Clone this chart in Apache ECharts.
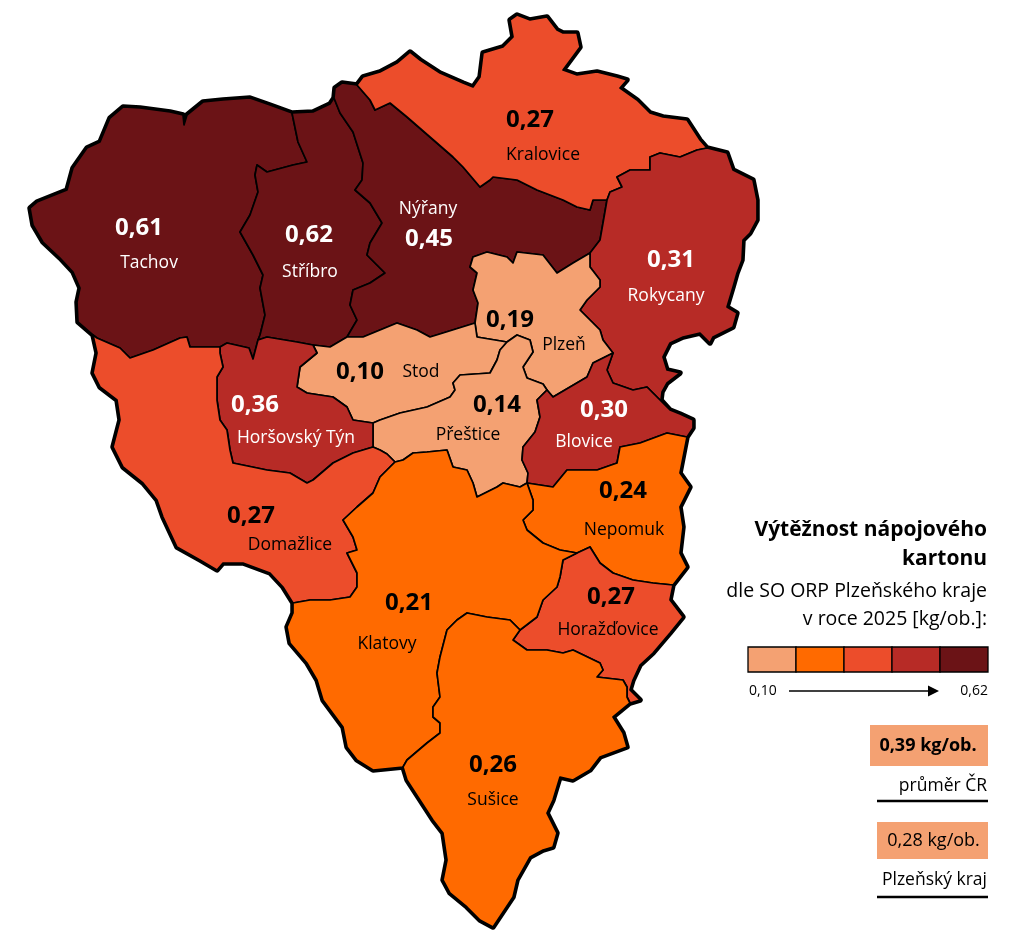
<!DOCTYPE html>
<html><head><meta charset="utf-8">
<script src="https://cdn.jsdelivr.net/npm/echarts@6/dist/echarts.min.js"></script>
<style>html,body{margin:0;padding:0;background:#fff}#c{width:1024px;height:935px}</style>
</head><body><div id="c"></div><script>
// ---------------- DATA ----------------
const regionNames = ['Tachov','Stříbro','Nýřany','Kralovice','Rokycany','Plzeň','Stod','Přeštice','Blovice','Horšovský Týn','Domažlice','Nepomuk','Horažďovice','Klatovy','Sušice'];
const regionValues = [0.61,0.62,0.45,0.27,0.31,0.19,0.10,0.14,0.30,0.36,0.27,0.24,0.27,0.21,0.26];
const classBreaks = [0.10,0.20,0.265,0.29,0.40,0.62];
const classColors = ['#f4a172','#ff6a00','#ec4d2b','#b72b26','#6b1316'];
const legendTicks = ['0,10','0,62'];
const averageLabels = ['průměr ČR','Plzeňský kraj'];
const averageValues = [0.39,0.28];
const titleLines = ['Výtěžnost nápojového','kartonu'];
const subtitleLines = ['dle SO ORP Plzeňského kraje','v roce 2025 [kg/ob.]:'];
const unit = 'kg/ob.';

// ---------------- GEOMETRY (map outlines, pixel space) ----------------
const CH = {
 O_TachovN:[[93,335],[78,322],[77,302],[80,288],[73,272],[60,258],[43,242],[33,225],[30,208],[37,202],[67,190],[73,168],[87,148],[100,142],[110,118],[123,107],[140,108],[170,112],[183,115],[184,125],[187,115],[203,102],[223,100],[250,98],[270,105],[292,113]],
 T_S:[[292,113],[298,142],[307,162],[293,165],[267,172],[257,165],[255,175],[258,192],[250,215],[240,232],[253,255],[263,275],[260,288],[265,315],[260,335],[258,340]],
 T_HT:[[258,340],[253,359],[249,348],[227,343],[220,347]],
 T_D:[[220,347],[190,347],[187,337],[180,338],[153,350],[130,358],[120,348],[97,338],[93,335]],
 O_StribroN:[[292,113],[313,112],[330,104],[334,98]],
 S_N:[[334,98],[340,113],[353,132],[363,163],[362,180],[355,190],[370,203],[382,223],[370,243],[367,255],[385,273],[370,283],[353,290],[350,305],[357,320],[347,337]],
 S_Stod:[[347,337],[330,347],[313,345]],
 S_HT:[[313,345],[297,342],[267,337],[258,340]],
 O_NyranyN:[[334,98],[335,88],[342,83],[357,85]],
 N_K:[[357,85],[370,100],[375,110],[390,103],[407,117],[430,137],[453,157],[463,167],[480,187],[490,180],[493,177],[517,180],[537,190],[563,200],[577,207],[590,210],[593,200],[607,200]],
 N_R:[[607,200],[603,223],[600,240],[590,253]],
 N_P:[[590,253],[573,263],[557,273],[543,255],[517,252],[513,263],[507,257],[487,252],[473,257],[470,267],[477,273],[473,290],[478,303],[475,323]],
 N_Stod:[[475,323],[443,333],[430,337],[417,330],[397,323],[363,337],[347,337]],
 O_KralN:[[357,85],[363,77],[380,72],[397,63],[410,52],[420,60],[440,73],[463,83],[473,87],[480,77],[483,53],[503,47],[513,37],[510,20],[517,15],[530,20],[547,17],[557,30],[563,33],[577,33],[580,47],[563,70],[577,75],[597,72],[617,77],[627,80],[620,88],[637,100],[650,113],[663,117],[687,120],[700,140],[707,148]],
 K_R:[[707,148],[697,150],[680,157],[660,153],[650,157],[650,170],[630,170],[617,177],[622,187],[610,192],[607,200]],
 O_RokE:[[707,148],[727,153],[733,170],[753,180],[757,200],[757,220],[750,233],[743,240],[742,260],[737,273],[733,287],[727,307],[737,313],[733,327],[713,337],[710,343],[700,333],[683,337],[670,343],[663,357],[667,370],[680,373],[667,383],[662,392],[661,400],[670,410]],
 R_B:[[670,410],[657,397],[647,387],[633,390],[613,383],[607,370],[613,353]],
 R_P:[[613,353],[603,340],[600,330],[590,320],[580,310],[587,300],[600,287],[600,280],[590,267],[590,253]],
 O_Blov:[[670,410],[680,414],[693,420],[693,428],[687,437]],
 P_B:[[613,353],[593,363],[587,377],[570,387],[553,397],[547,390]],
 P_Pr:[[547,390],[543,384],[527,378],[523,367],[533,352],[530,340],[517,335],[507,342]],
 P_Stod:[[507,342],[477,337],[475,323]],
 St_Pr:[[507,342],[500,350],[497,360],[490,373],[460,375],[453,383],[455,390],[450,397],[427,407],[400,413],[380,420],[373,423]],
 St_HT:[[373,423],[353,420],[347,407],[333,397],[307,393],[297,387],[300,367],[317,353],[313,345]],
 HT_Pr:[[373,423],[373,447]],
 HT_D:[[373,447],[353,453],[333,463],[313,480],[307,483],[290,473],[267,470],[233,463],[230,450],[227,430],[220,420],[217,400],[217,377],[223,367],[220,353],[220,347]],
 O_Dom:[[93,335],[97,353],[93,373],[100,387],[117,400],[120,420],[113,447],[123,467],[143,483],[157,500],[163,517],[177,547],[200,560],[217,570],[223,563],[243,563],[270,573],[283,587],[293,603]],
 D_K:[[293,603],[310,600],[330,600],[350,597],[357,587],[357,573],[347,553],[357,550],[353,537],[343,520],[357,507],[373,493],[380,477],[395,462]],
 D_Pr:[[395,462],[387,454],[380,450],[373,447]],
 Pr_B:[[547,390],[537,400],[540,417],[535,432],[523,447],[522,460],[528,473],[527,483]],
 Pr_K:[[527,483],[520,487],[503,483],[497,487],[477,497],[473,483],[467,470],[453,467],[447,450],[427,452],[413,453],[403,460],[395,462]],
 B_N:[[687,437],[667,433],[640,443],[620,447],[617,463],[597,470],[567,470],[553,487],[527,483]],
 O_Nep:[[687,437],[680,473],[690,487],[680,507],[683,527],[680,553],[687,567],[673,585]],
 Ne_H:[[673,585],[653,583],[633,580],[613,573],[600,563],[590,547],[577,553]],
 Ne_K:[[577,553],[560,550],[543,543],[527,530],[523,520],[533,510],[533,500],[527,483]],
 O_Hor:[[673,585],[670,600],[683,617],[670,633],[653,653],[640,665],[633,680],[630,690],[640,700],[630,703]],
 H_S:[[630,703],[627,697],[627,687],[623,680],[597,677],[603,670],[600,663],[573,650],[563,653],[547,650],[527,650],[513,640],[520,630]],
 H_K:[[520,630],[537,617],[543,600],[557,587],[560,577],[563,560],[577,553]],
 O_Sus:[[630,703],[613,717],[623,733],[627,747],[600,757],[590,770],[573,780],[560,777],[553,800],[547,813],[557,833],[553,847],[543,850],[530,857],[517,880],[513,897],[493,927],[480,920],[467,907],[450,893],[443,880],[447,860],[443,833],[433,820],[420,800],[407,780],[403,767]],
 Su_K:[[403,767],[407,760],[427,743],[440,733],[440,723],[433,717],[433,707],[440,697],[437,673],[440,657],[447,630],[457,620],[467,613],[487,617],[510,620],[520,630]],
 O_Kl:[[403,767],[373,770],[357,760],[347,747],[343,727],[323,700],[317,680],[307,663],[290,643],[287,627],[293,613],[293,603]]
};
const REG = {
 'Tachov':['O_TachovN','T_S','T_HT','T_D'],
 'Stříbro':['O_StribroN','S_N','S_Stod','S_HT','-T_S'],
 'Nýřany':['O_NyranyN','N_K','N_R','N_P','N_Stod','-S_N'],
 'Kralovice':['O_KralN','K_R','-N_K'],
 'Rokycany':['O_RokE','R_B','R_P','-N_R','-K_R'],
 'Plzeň':['-N_P','-R_P','P_B','P_Pr','P_Stod'],
 'Stod':['-N_Stod','-P_Stod','St_Pr','St_HT','-S_Stod'],
 'Horšovský Týn':['-T_HT','-S_HT','-St_HT','HT_Pr','HT_D'],
 'Domažlice':['O_Dom','D_K','D_Pr','HT_D','T_D'],
 'Přeštice':['-P_Pr','Pr_B','Pr_K','D_Pr','-HT_Pr','-St_Pr'],
 'Blovice':['-R_B','O_Blov','B_N','-Pr_B','-P_B'],
 'Nepomuk':['-B_N','O_Nep','Ne_H','Ne_K'],
 'Horažďovice':['-Ne_H','O_Hor','H_S','H_K'],
 'Sušice':['-H_S','O_Sus','Su_K'],
 'Klatovy':['D_K','-Pr_K','-Ne_K','-H_K','-Su_K','O_Kl']
};
const OUTLINE = ['O_TachovN','O_StribroN','O_NyranyN','O_KralN','O_RokE','O_Blov','O_Nep','O_Hor','O_Sus','O_Kl','-O_Dom'];
// label anchors: [value centre, name centre]
const LABEL_POS = {
 'Tachov':[[139,228],[149,263]], 'Stříbro':[[309,235],[310,272]], 'Nýřany':[[429,239],[428,209]],
 'Kralovice':[[530,120],[543,155]], 'Rokycany':[[671,260],[666,296]], 'Plzeň':[[510,320],[564,345]],
 'Stod':[[360,372],[421,372]], 'Přeštice':[[497,405],[468,435]], 'Blovice':[[604,410],[584,442]],
 'Horšovský Týn':[[255,405],[296,438]], 'Domažlice':[[251,516],[290,545]], 'Nepomuk':[[623,491],[624,530]],
 'Horažďovice':[[611,597],[608,630]], 'Klatovy':[[409,603],[387,644]], 'Sušice':[[493,765],[493,800]]
};

// ---------------- BUILD ----------------
const FONT = '"Open Sans", "Noto Sans", sans-serif';
const VFS = 24, NFS = 17.5;
function ring(parts){
  let pts = [];
  parts.forEach(p => {
    const rev = p[0] === '-';
    let c = CH[rev ? p.slice(1) : p].slice();
    if (rev) c.reverse();
    if (pts.length) c = c.slice(1);
    pts = pts.concat(c);
  });
  pts.push(pts[0]);
  return pts.map(q => [q[0], -q[1]]);
}
const fmt = v => v.toFixed(2).replace('.', ',');
const classOf = v => { for (let i = 0; i < classColors.length; i++) { if (v < classBreaks[i+1] || i === classColors.length-1) return i; } };

const mctx = document.createElement('canvas').getContext('2d');
function tw(text, font){ mctx.font = font; return mctx.measureText(text).width; }
const V_FONT = 'bold ' + VFS + 'px ' + FONT, N_FONT = NFS + 'px ' + FONT;

const RICH = {}, LABELS = {};
const features = regionNames.map((name, i) => {
  const val = fmt(regionValues[i]);
  const [[vx,vy],[nx,ny]] = LABEL_POS[name];
  const col = classOf(regionValues[i]) >= 3 ? '#fff' : '#000';
  let cp, text;
  const vs = {fontSize:VFS, fontWeight:'bold', fontFamily:FONT, color:col, align:'center'};
  const ns = {fontSize:NFS, fontFamily:FONT, color:col, align:'center'};
  if (Math.abs(ny - vy) < 5) {
    const wv = tw(val, V_FONT), wn = tw(name, N_FONT);
    const gap = (nx - wn/2) - (vx + wv/2);
    const L = vx - wv/2;
    cp = [L + (wv + gap + wn)/2, vy];
    vs.padding = [0, gap, 0, 0]; vs.lineHeight = 30; ns.lineHeight = 30;
    text = `{v${i}|${val}}{n${i}|${name}}`;
  } else {
    const dx = nx - vx, dy = ny - vy, lh = Math.abs(dy);
    vs.padding = dx > 0 ? [0, dx, 0, 0] : [0, 0, 0, -dx];
    ns.padding = dx > 0 ? [0, 0, 0, dx] : [0, -dx, 0, 0];
    vs.lineHeight = lh; ns.lineHeight = lh;
    cp = [(vx+nx)/2, (vy+ny)/2];
    text = dy > 0 ? `{v${i}|${val}}\n{n${i}|${name}}` : `{n${i}|${name}}\n{v${i}|${val}}`;
  }
  RICH['v'+i] = vs; RICH['n'+i] = ns;
  LABELS[name] = text;
  return {type:'Feature', properties:{name, cp:[cp[0], -cp[1]]}, geometry:{type:'Polygon', coordinates:[ring(REG[name])]}};
});
echarts.registerMap('plzen', {type:'FeatureCollection', features});
echarts.registerMap('plzenOutline', {type:'FeatureCollection', features:[{type:'Feature', properties:{name:'outline'}, geometry:{type:'Polygon', coordinates:[ring(OUTLINE)]}}]});

let minX=1e9,minY=1e9,maxX=-1e9,maxY=-1e9;
Object.values(CH).forEach(c => c.forEach(([x,y]) => { minX=Math.min(minX,x); maxX=Math.max(maxX,x); minY=Math.min(minY,y); maxY=Math.max(maxY,y); }));
const box = {left:minX, top:minY, width:maxX-minX, height:maxY-minY};

// ---------------- LEGEND (graphic) ----------------
const G = [];
const RX = 987;
titleLines.forEach((t, k) => G.push({type:'text', x:RX, y:530 + k*29, style:{text:t, font:'bold 21px ' + FONT, fill:'#000', align:'right', verticalAlign:'middle'}}));
subtitleLines.forEach((t, k) => G.push({type:'text', x:RX, y:591 + k*28, style:{text:t, font:'19.5px ' + FONT, fill:'#000', align:'right', verticalAlign:'middle'}}));
const barX = 748, barY = 647, cw = 48, chh = 25;
classColors.forEach((c, k) => G.push({type:'rect', shape:{x:barX + k*cw, y:barY, width:cw, height:chh}, style:{fill:c, stroke:'#000', lineWidth:1.3}}));
G.push({type:'text', x:barX + 1, y:691, style:{text:legendTicks[0], font:'14px ' + FONT, fill:'#000', align:'left', verticalAlign:'middle'}});
G.push({type:'text', x:barX + 5*cw, y:691, style:{text:legendTicks[1], font:'14px ' + FONT, fill:'#000', align:'right', verticalAlign:'middle'}});
G.push({type:'line', shape:{x1:789, y1:691, x2:930, y2:691}, style:{stroke:'#000', lineWidth:1.5}});
G.push({type:'polygon', shape:{points:[[928,685.5],[939,691],[928,696.5]]}, style:{fill:'#000'}});
const avgBoxes = [{x:870, y:725, w:118, h:41, ty:786, uy:801}, {x:877, y:822, w:111, h:37, ty:880, uy:897}];
averageValues.forEach((v, k) => {
  const b = avgBoxes[k];
  G.push({type:'rect', shape:{x:b.x, y:b.y, width:b.w, height:b.h}, style:{fill:classColors[0]}});
  G.push({type:'text', x:b.x + b.w/2 + (k === 0 ? -1 : 1), y:b.y + b.h/2, style:{text:fmt(v) + ' ' + unit, font:(k === 0 ? 'bold ' : '') + '18px ' + FONT, fill:'#000', align:'center', verticalAlign:'middle'}});
  G.push({type:'text', x:RX, y:b.ty, style:{text:averageLabels[k], font:'17.5px ' + FONT, fill:'#000', align:'right', verticalAlign:'middle'}});
  G.push({type:'line', shape:{x1:877, y1:b.uy, x2:988, y2:b.uy}, style:{stroke:'#000', lineWidth:2.5}});
});

// ---------------- CHART ----------------
const chart = echarts.init(document.getElementById('c'), null, {renderer:'canvas'});
chart.setOption({
  backgroundColor:'#fff',
  animation:false,
  geo:{map:'plzenOutline', aspectScale:1, ...box, roam:false, silent:true, z:0,
       itemStyle:{areaColor:'#fff', borderColor:'#000', borderWidth:5.5, borderJoin:'round'},
       label:{show:false}, emphasis:{disabled:true}, select:{disabled:true}, tooltip:{show:false}},
  visualMap:{type:'piecewise', show:false, seriesIndex:0, dimension:0,
    pieces:classColors.map((c, k) => k === classColors.length-1 ? {gte:classBreaks[k], lte:1, color:c} : {gte:classBreaks[k], lt:classBreaks[k+1], color:c})},
  series:[{
    type:'map', map:'plzen', aspectScale:1, ...box, roam:false, silent:true, z:2, selectedMode:false,
    itemStyle:{borderColor:'#000', borderWidth:1.7, borderJoin:'round'},
    emphasis:{disabled:true}, select:{disabled:true},
    label:{show:true, formatter:p => LABELS[p.name], rich:RICH, fontFamily:FONT},
    data:regionNames.map((n, i) => ({name:n, value:regionValues[i]}))
  }],
  graphic:G
});
</script></body></html>
